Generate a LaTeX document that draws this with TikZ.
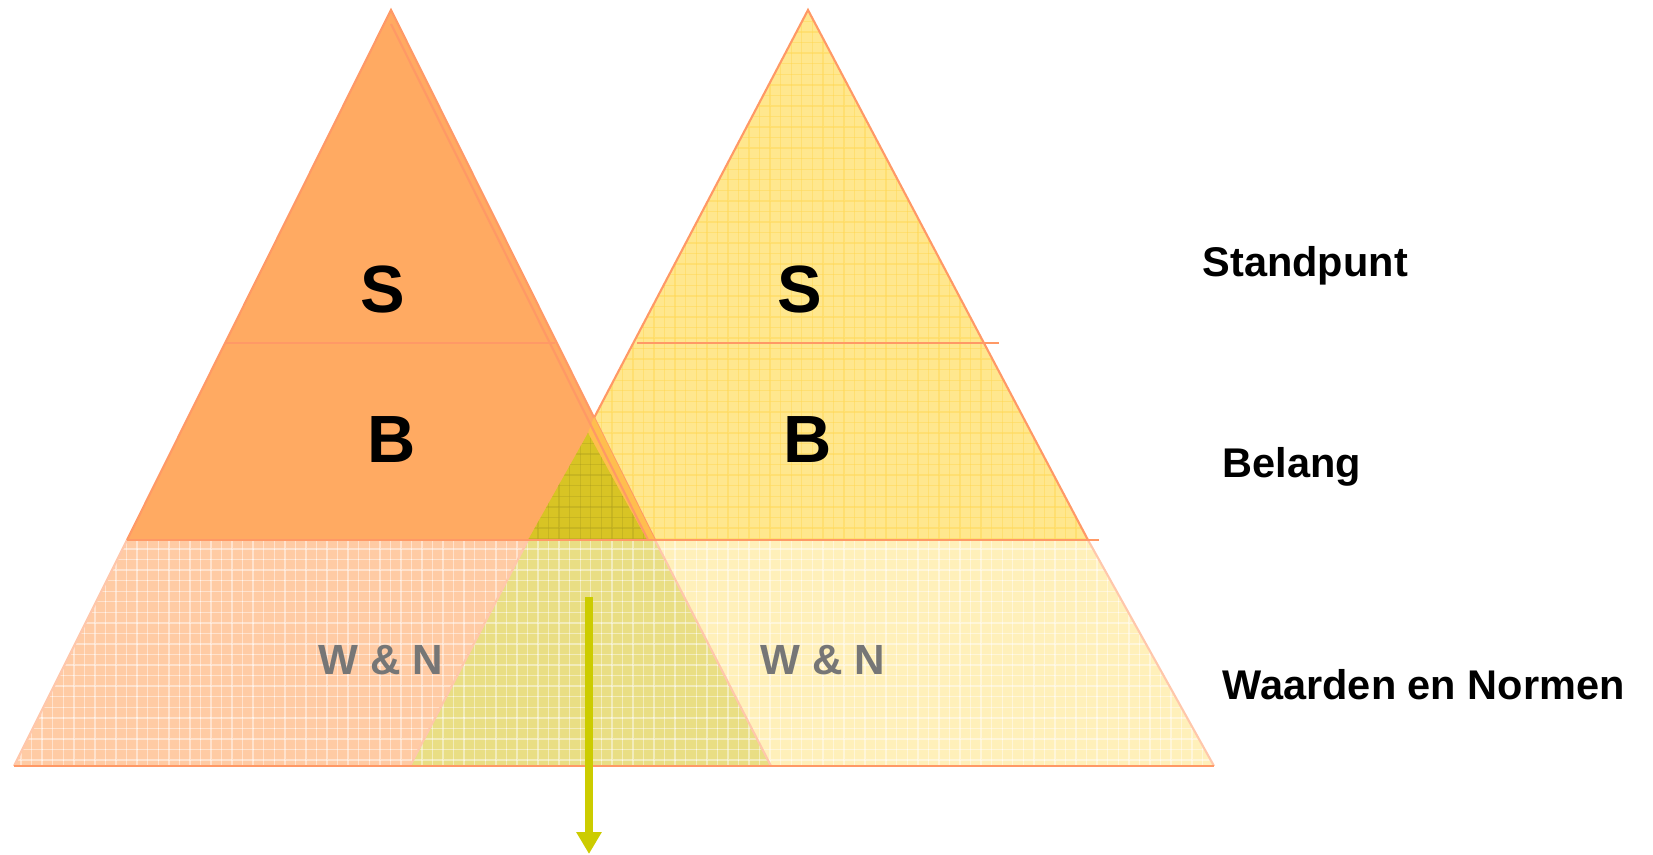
\documentclass[tikz,border=0pt]{standalone}
\usepackage{fontspec}
\setmainfont{Liberation Sans}
\usetikzlibrary{patterns,arrows.meta}
\definecolor{topOrange}{HTML}{FFAA62}
\definecolor{topYellow}{HTML}{FFE78E}
\definecolor{gridYellow}{HTML}{FFDA5E}
\definecolor{edgeSalmon}{HTML}{FF9966}
\definecolor{basePink}{HTML}{FFCBA4}
\definecolor{basePale}{HTML}{FFF0BA}
\definecolor{baseOlive}{HTML}{E9DE84}
\definecolor{midOlive}{HTML}{D8C424}
\definecolor{midBand}{HTML}{FFBE4E}
\definecolor{arrowOlive}{HTML}{CCCC00}
\definecolor{wnGray}{HTML}{767676}
\tikzset{
  lbl/.style={font=\fontsize{11.8}{14}\selectfont\bfseries, anchor=base west, inner sep=0pt},
  big/.style={font=\fontsize{19}{22}\selectfont\bfseries, anchor=base, inner sep=0pt},
  wn/.style={font=\fontsize{12}{14}\selectfont\bfseries, text=wnGray, anchor=base, inner sep=0pt},
  edge/.style={draw=edgeSalmon, line width=0.6pt},
  softedge/.style={draw=edgeSalmon!55, line width=0.6pt},
}
\begin{document}
\begin{tikzpicture}[x=0.01cm,y=-0.01cm]
	\useasboundingbox (0,0) rectangle (1653,855);
	% bottom band
	\fill[basePink] (127,540) -- (655,540) -- (771,766) -- (14,766) -- cycle;
	\fill[basePale] (528,540) -- (1088,540) -- (1214,766) -- (410,766) -- cycle;
	\fill[baseOlive] (528,540) -- (655,540) -- (771,766) -- (410,766) -- cycle;
	\fill[pattern=grid, pattern color=white, opacity=0.45] (127,540) -- (1088,540) -- (1214,766) -- (14,766) -- cycle;
	\draw[softedge] (127,540) -- (14,766);
	\draw[softedge] (1088,540) -- (1214,766);
	\draw[softedge] (655,540) -- (771,766);
	\draw[softedge] (528,540) -- (410,766);
	\draw[edge] (14,766) -- (1214,766);
	% right top
	\fill[topYellow] (808,10) -- (1088,540) -- (530,540) -- cycle;
	\fill[pattern=grid, pattern color=gridYellow, opacity=0.6] (808,10) -- (1088,540) -- (530,540) -- cycle;
	\draw[edge] (530,540) -- (808,10) -- (1088,540);
	% left top
	\fill[topOrange] (391,10) -- (655,540) -- (127,540) -- cycle;
	\draw[edge] (127,540) -- (391,10) -- (655,540);
	\fill[midBand] (594,417) -- (655,540) -- (647,540) -- (588,433) -- cycle;
	\draw[edge] (391,24) -- (648,540);
	\fill[midOlive] (588,433) -- (528,540) -- (647,540) -- cycle;
	\fill[pattern=grid, pattern color=midOlive!85!black, opacity=0.5] (588,433) -- (528,540) -- (647,540) -- cycle;
	% dividers
	\draw[edge] (225,343) -- (555,343);
	\draw[edge] (637,343) -- (999,343);
	\draw[edge] (127,540) -- (1099,540);
	% letters
	\node[big] (sL) at (383,313) {S};
	\node[big] (bL) at (392,463) {B};
	\node[big] (sR) at (800,313) {S};
	\node[big] (bR) at (808,463) {B};
	\node[wn] (wnL) at (381,675) {W \& N};
	\node[wn] (wnR) at (823,675) {W \& N};
	% labels
	\node[lbl] (standpunt) at (1202,277) {Standpunt};
	\node[lbl] (belang) at (1222,478) {Belang};
	\node[lbl] (waarden) at (1222,700) {Waarden en Normen};
	% arrow
	\coordinate (arrowTop) at (589,597);
	\coordinate (arrowTip) at (589,854);
	\draw[arrowOlive, line width=2.3pt, -{Triangle[width=6.8pt,length=6.2pt]}] (arrowTop) -- (arrowTip);
\end{tikzpicture}
\end{document}
